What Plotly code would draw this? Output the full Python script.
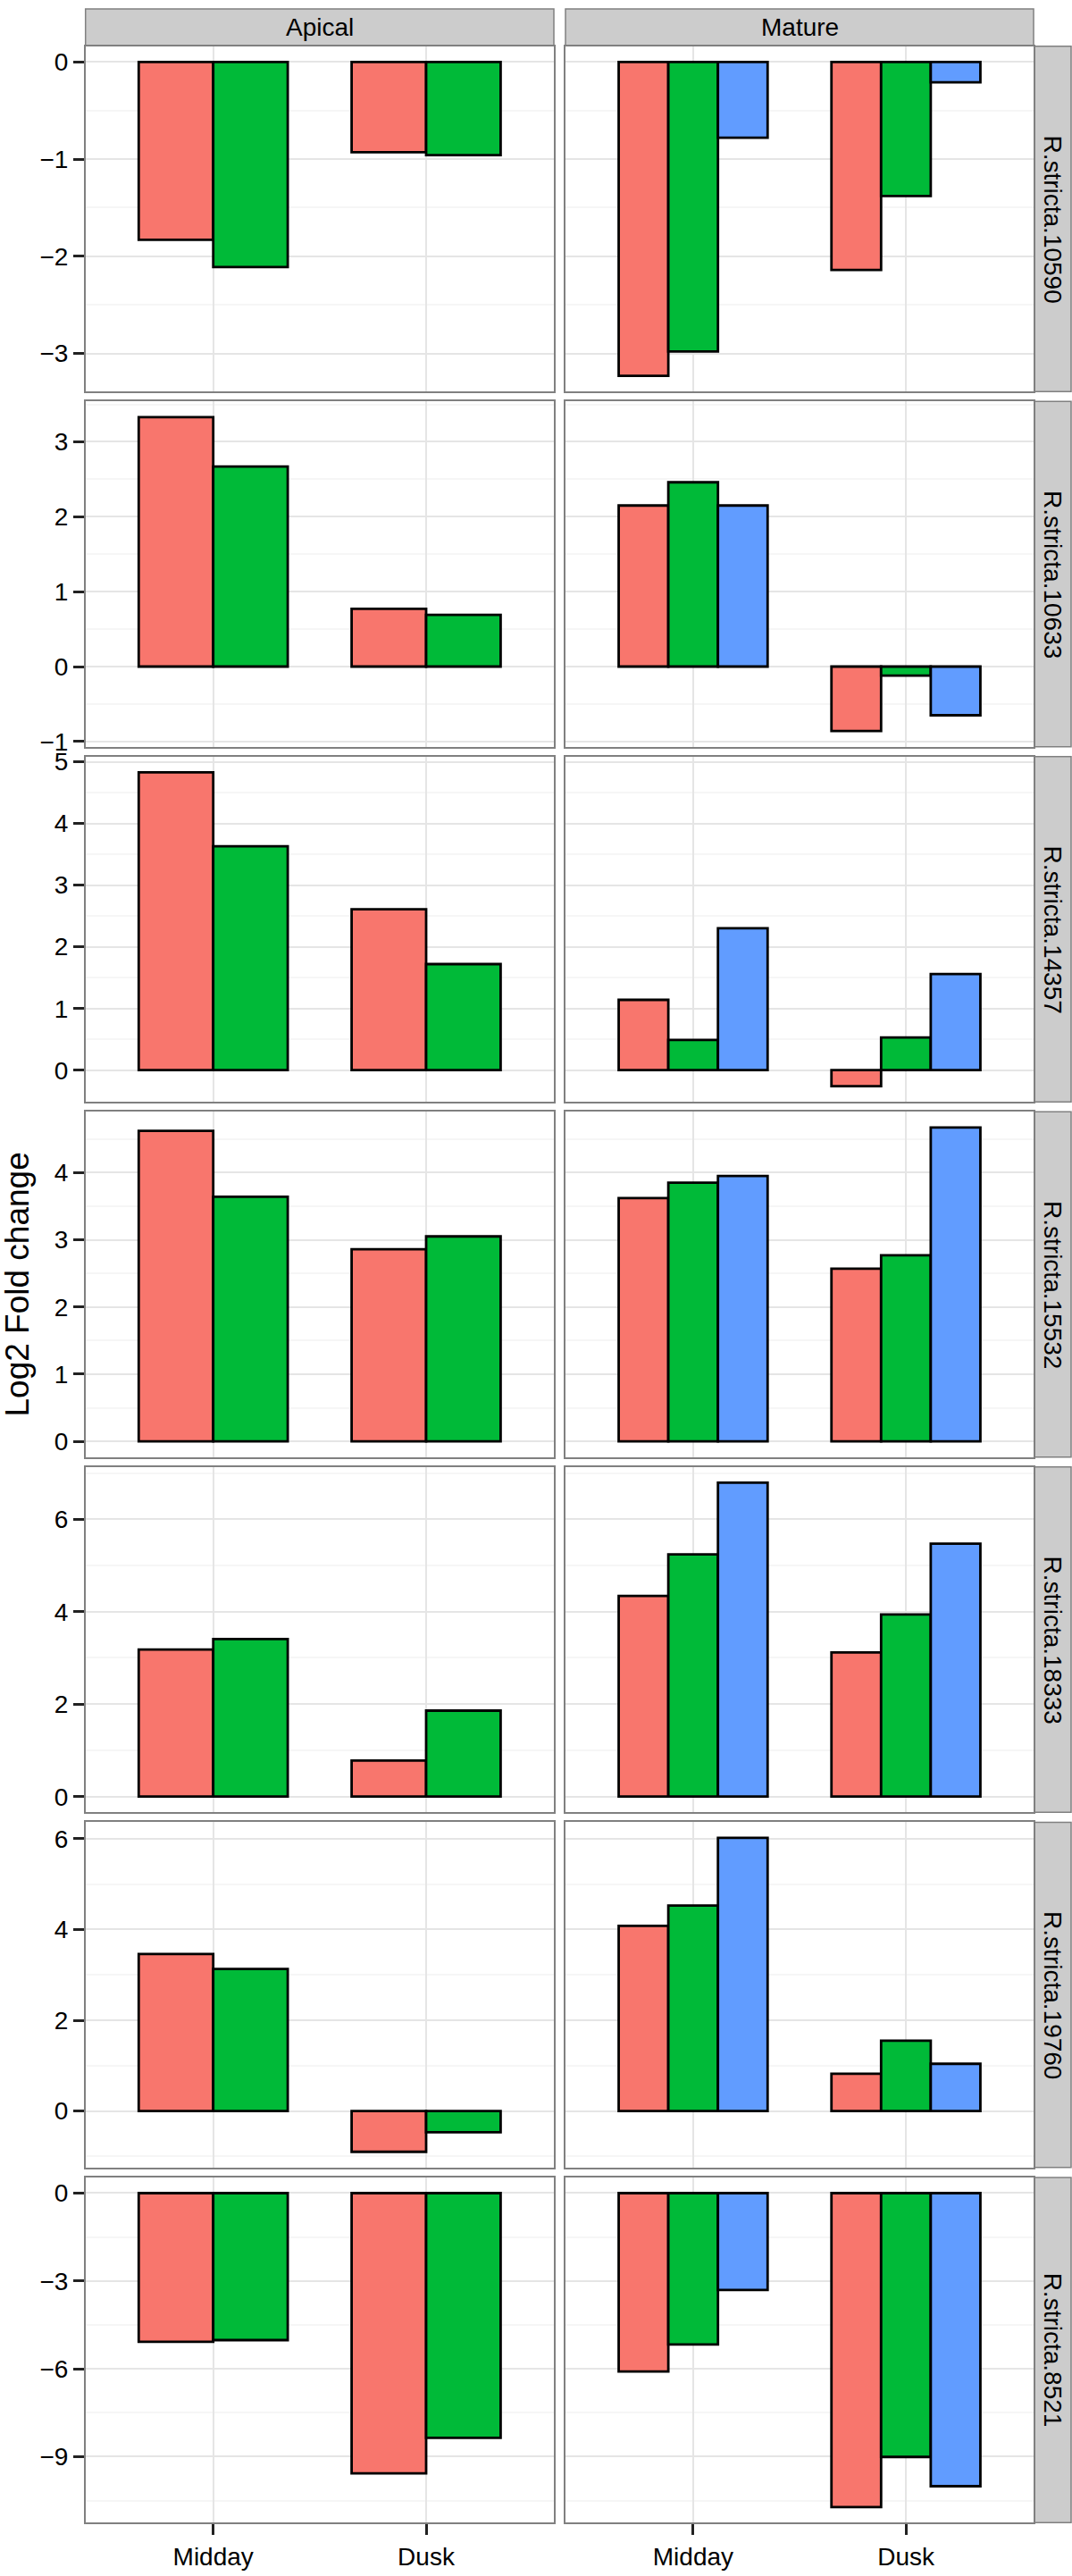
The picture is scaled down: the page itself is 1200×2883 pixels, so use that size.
import plotly.graph_objects as go
from plotly.subplots import make_subplots

# ---------------- data ----------------
genes = ["R.stricta.10590", "R.stricta.10633", "R.stricta.14357", "R.stricta.15532",
         "R.stricta.18333", "R.stricta.19760", "R.stricta.8521"]
tissues = ["Apical", "Mature"]
times = ["Midday", "Dusk"]
series_names = ["Group 1", "Group 2", "Group 3"]
series_colors = ["#F8766D", "#00BA38", "#619CFF"]

# Apical
apical_s1_midday = [-1.83, 3.33, 4.83, 4.62, 3.18, 3.46, -5.08]
apical_s1_dusk   = [-0.93, 0.77, 2.61, 2.86, 0.78, -0.90, -9.57]
apical_s2_midday = [-2.11, 2.67, 3.63, 3.64, 3.41, 3.13, -5.02]
apical_s2_dusk   = [-0.96, 0.69, 1.72, 3.05, 1.86, -0.47, -8.36]
# Mature
mature_s1_midday = [-3.23, 2.15, 1.14, 3.62, 4.34, 4.08, -6.09]
mature_s1_dusk   = [-2.14, -0.86, -0.26, 2.57, 3.12, 0.82, -10.72]
mature_s2_midday = [-2.98, 2.46, 0.49, 3.85, 5.24, 4.53, -5.17]
mature_s2_dusk   = [-1.38, -0.12, 0.53, 2.77, 3.94, 1.55, -9.01]
mature_s3_midday = [-0.78, 2.15, 2.30, 3.95, 6.79, 6.02, -3.31]
mature_s3_dusk   = [-0.21, -0.65, 1.56, 4.67, 5.47, 1.04, -10.01]

# y tick step per gene row
row_dtick = [1, 1, 1, 1, 2, 2, 3]

panel_series = {
    "Apical": [(apical_s1_midday, apical_s1_dusk), (apical_s2_midday, apical_s2_dusk)],
    "Mature": [(mature_s1_midday, mature_s1_dusk), (mature_s2_midday, mature_s2_dusk),
               (mature_s3_midday, mature_s3_dusk)],
}

# ---------------- layout geometry ----------------
W, H = 1200, 2883
FONT = "Liberation Sans, Arial, Helvetica, sans-serif"
col_px = [(95.7, 620.0), (633.0, 1157.0)]
panel_h = 389.0
row_pitch = 400.17
top0 = 43.0
strip_right = (1158.0, 1199.0)

fig = make_subplots(rows=7, cols=2)

for r, gene in enumerate(genes):
    # free y scale per row, ggplot-like 5% expansion
    vals = []
    for t in tissues:
        for mid, dusk in panel_series[t]:
            vals += [mid[r], dusk[r]]
    lo, hi = min(0, min(vals)), max(0, max(vals))
    span = hi - lo
    yr = [lo - 0.05 * span, hi + 0.05 * span]

    ytop = top0 + r * row_pitch
    ybot = ytop + panel_h
    ydom = [1 - ybot / H, 1 - ytop / H]

    for c, t in enumerate(tissues):
        for s, (mid, dusk) in enumerate(panel_series[t]):
            fig.add_trace(go.Bar(
                x=times, y=[mid[r], dusk[r]], name=series_names[s],
                marker=dict(color=series_colors[s], line=dict(color="black", width=2.8)),
                showlegend=False, hoverinfo="skip"), row=r + 1, col=c + 1)

        idx = r * 2 + c + 1
        xname = "xaxis" if idx == 1 else f"xaxis{idx}"
        yname = "yaxis" if idx == 1 else f"yaxis{idx}"
        bottom = (r == len(genes) - 1)
        fig.layout[xname].update(
            domain=[col_px[c][0] / W, col_px[c][1] / W],
            type="category", categoryorder="array", categoryarray=times,
            range=[-0.6, 1.6], showgrid=True, gridcolor="#E5E5E5", gridwidth=1.5,
            showline=True, linecolor="#808080", linewidth=1.5, mirror=True,
            ticks="outside" if bottom else "", ticklen=12, tickwidth=2.5, tickcolor="#222222",
            showticklabels=bottom, tickfont=dict(family=FONT, size=28, color="black"),
            zeroline=False, fixedrange=True)
        fig.layout[yname].update(
            domain=ydom, range=yr, tick0=0, dtick=row_dtick[r],
            showgrid=True, gridcolor="#E5E5E5", gridwidth=1.5,
            minor=dict(tick0=0, dtick=row_dtick[r] / 2, showgrid=True,
                       gridcolor="#F6F6F6", gridwidth=1.5),
            showline=True, linecolor="#808080", linewidth=1.5, mirror=True,
            ticks="outside" if c == 0 else "", ticklen=12, tickwidth=2.5, tickcolor="#222222",
            showticklabels=(c == 0), tickfont=dict(family=FONT, size=28, color="black"),
            zeroline=False, fixedrange=True)

    # row strip
    fig.add_shape(type="rect", xref="paper", yref="paper",
                  x0=strip_right[0] / W, x1=strip_right[1] / W, y0=ydom[0], y1=ydom[1],
                  fillcolor="#CCCCCC", line=dict(color="#808080", width=1.5), layer="below")
    fig.add_annotation(text=gene, xref="paper", yref="paper",
                       x=(strip_right[0] + strip_right[1]) / 2 / W, y=(ydom[0] + ydom[1]) / 2,
                       textangle=90, showarrow=False, xanchor="center", yanchor="middle",
                       font=dict(family=FONT, size=28, color="black"))

# column strips
for c, t in enumerate(tissues):
    fig.add_shape(type="rect", xref="paper", yref="paper",
                  x0=col_px[c][0] / W, x1=col_px[c][1] / W, y0=1 - 42 / H, y1=1 - 1 / H,
                  fillcolor="#CCCCCC", line=dict(color="#808080", width=1.5), layer="below")
    fig.add_annotation(text=t, xref="paper", yref="paper",
                       x=(col_px[c][0] + col_px[c][1]) / 2 / W, y=1 - 21.5 / H,
                       showarrow=False, xanchor="center", yanchor="middle",
                       font=dict(family=FONT, size=28, color="black"))

# y axis title
fig.add_annotation(text="Log2 Fold change", xref="paper", yref="paper",
                   x=20 / W, y=1 - 1438 / H, textangle=-90, showarrow=False,
                   xanchor="center", yanchor="middle",
                   font=dict(family=FONT, size=37, color="black"))

fig.update_layout(width=W, height=H, autosize=False,
                  margin=dict(l=0, r=0, t=0, b=0),
                  barmode="group", bargap=0.3, bargroupgap=0,
                  plot_bgcolor="white", paper_bgcolor="white", showlegend=False)

fig.write_html("out.html", config={"displayModeBar": False},
               post_script="document.body.style.margin='0';document.body.style.overflow='hidden';")
